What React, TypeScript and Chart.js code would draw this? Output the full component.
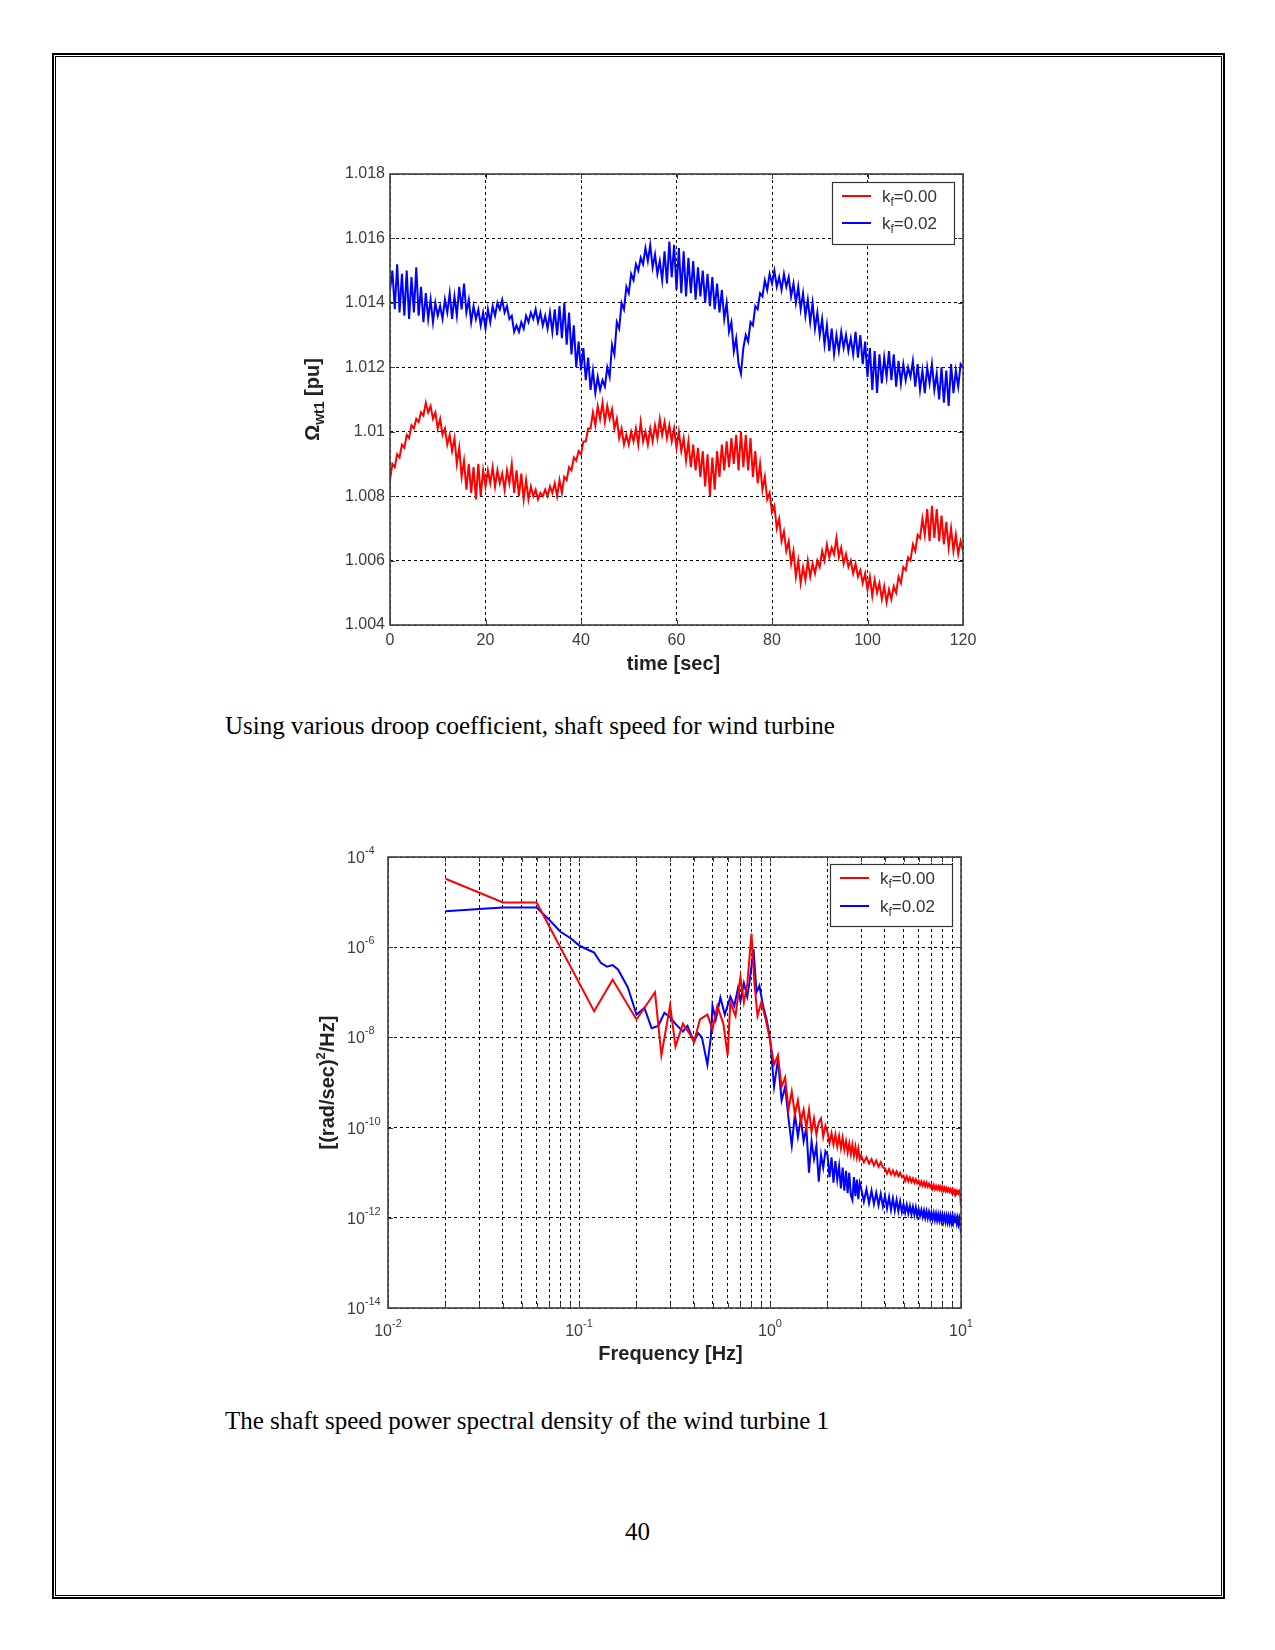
import React, { useEffect, useRef } from "react";
import { Chart, registerables } from "chart.js";
Chart.register(...registerables);

// ---------- Figure 1: shaft speed vs time ----------
const TIME_STEP_SEC = 0.5;
const TIME_X_TICKS = [0, 20, 40, 60, 80, 100, 120];
const OMEGA_Y_TICKS = [1.004, 1.006, 1.008, 1.01, 1.012, 1.014, 1.016, 1.018];
const OMEGA_Y_LABELS = ["1.004", "1.006", "1.008", "1.01", "1.012", "1.014", "1.016", "1.018"];

const OMEGA_KF000 = [
  1.0085, 1.0090, 1.0089, 1.0093, 1.0092, 1.0096, 1.0095, 1.0099, 1.0098, 1.0102,
  1.0101, 1.0104, 1.0103, 1.0106, 1.0105, 1.0109, 1.0106, 1.0108, 1.0104, 1.0106,
  1.0101, 1.0104, 1.0099, 1.0101, 1.0096, 1.0099, 1.0094, 1.0098, 1.0090, 1.0095,
  1.0086, 1.0091, 1.0082, 1.0090, 1.0081, 1.0089, 1.0079, 1.0090, 1.0080, 1.0088,
  1.0083, 1.0088, 1.0084, 1.0089, 1.0083, 1.0088, 1.0084, 1.0087, 1.0082, 1.0088,
  1.0084, 1.0090, 1.0081, 1.0088, 1.0080, 1.0087, 1.0079, 1.0085, 1.0079, 1.0083,
  1.0080, 1.0082, 1.0079, 1.0081, 1.0080, 1.0082, 1.0080, 1.0083, 1.0081, 1.0084,
  1.0080, 1.0085, 1.0081, 1.0086, 1.0085, 1.0089, 1.0088, 1.0092, 1.0091, 1.0094,
  1.0093, 1.0097, 1.0097, 1.0101, 1.0101, 1.0106, 1.0102, 1.0108, 1.0104, 1.0109,
  1.0103, 1.0108, 1.0104, 1.0107, 1.0101, 1.0104, 1.0098, 1.0101, 1.0096, 1.0099,
  1.0096, 1.0100, 1.0097, 1.0101, 1.0096, 1.0103, 1.0097, 1.0100, 1.0096, 1.0101,
  1.0097, 1.0102, 1.0098, 1.0104, 1.0099, 1.0103, 1.0098, 1.0102, 1.0097, 1.0101,
  1.0095, 1.0100, 1.0094, 1.0098, 1.0091, 1.0097, 1.0089, 1.0096, 1.0088, 1.0095,
  1.0086, 1.0094, 1.0083, 1.0093, 1.0080, 1.0092, 1.0082, 1.0094, 1.0086, 1.0096,
  1.0088, 1.0097, 1.0089, 1.0098, 1.0090, 1.0099, 1.0088, 1.0100, 1.0089, 1.0099,
  1.0088, 1.0098, 1.0086, 1.0094, 1.0084, 1.0090, 1.0082, 1.0086, 1.0079, 1.0081,
  1.0075, 1.0077, 1.0070, 1.0073, 1.0066, 1.0069, 1.0063, 1.0066, 1.0059, 1.0063,
  1.0055, 1.0060, 1.0053, 1.0058, 1.0054, 1.0060, 1.0055, 1.0059, 1.0056, 1.0060,
  1.0058, 1.0063, 1.0060, 1.0065, 1.0061, 1.0064, 1.0062, 1.0067, 1.0061, 1.0064,
  1.0059, 1.0062, 1.0058, 1.0060, 1.0056, 1.0059, 1.0055, 1.0057, 1.0053, 1.0056,
  1.0051, 1.0055, 1.0049, 1.0054, 1.0050, 1.0053, 1.0048, 1.0052, 1.0047, 1.0051,
  1.0048, 1.0052, 1.0050, 1.0055, 1.0053, 1.0058, 1.0057, 1.0061, 1.0060, 1.0065,
  1.0063, 1.0068, 1.0067, 1.0073, 1.0068, 1.0076, 1.0066, 1.0077, 1.0067, 1.0076,
  1.0066, 1.0074, 1.0065, 1.0072, 1.0064, 1.0070, 1.0063, 1.0068, 1.0062, 1.0066,
  1.0063,
];

const OMEGA_KF002 = [
  1.0144, 1.0150, 1.0138, 1.0152, 1.0137, 1.0149, 1.0136, 1.0150, 1.0135, 1.0148,
  1.0137, 1.0151, 1.0136, 1.0145, 1.0134, 1.0143, 1.0135, 1.0141, 1.0134, 1.0140,
  1.0136, 1.0139, 1.0135, 1.0141, 1.0137, 1.0143, 1.0135, 1.0142, 1.0136, 1.0145,
  1.0138, 1.0146, 1.0137, 1.0141, 1.0134, 1.0139, 1.0135, 1.0138, 1.0133, 1.0137,
  1.0132, 1.0138, 1.0134, 1.0139, 1.0136, 1.0140, 1.0138, 1.0141, 1.0137, 1.0139,
  1.0135, 1.0136, 1.0131, 1.0133, 1.0131, 1.0134, 1.0132, 1.0136, 1.0134, 1.0137,
  1.0135, 1.0138, 1.0134, 1.0137, 1.0133, 1.0136, 1.0132, 1.0137, 1.0131, 1.0138,
  1.0130, 1.0139, 1.0129, 1.0140, 1.0127, 1.0137, 1.0124, 1.0133, 1.0120, 1.0128,
  1.0119, 1.0126, 1.0116, 1.0123, 1.0113, 1.0119, 1.0112, 1.0117, 1.0113, 1.0116,
  1.0114, 1.0120, 1.0117, 1.0127, 1.0124, 1.0134, 1.0132, 1.0140, 1.0138, 1.0145,
  1.0143, 1.0149, 1.0147, 1.0152, 1.0150, 1.0154, 1.0152, 1.0157, 1.0153, 1.0158,
  1.0151, 1.0155, 1.0149, 1.0153, 1.0147, 1.0156, 1.0146, 1.0159, 1.0148, 1.0158,
  1.0144, 1.0157, 1.0143, 1.0156, 1.0142, 1.0154, 1.0143, 1.0153, 1.0141, 1.0151,
  1.0142, 1.0150, 1.0140, 1.0149, 1.0139, 1.0148, 1.0138, 1.0146, 1.0137, 1.0144,
  1.0135, 1.0140, 1.0131, 1.0134, 1.0125, 1.0129, 1.0121, 1.0118, 1.0126, 1.0130,
  1.0128, 1.0134, 1.0133, 1.0139, 1.0138, 1.0143, 1.0142, 1.0147, 1.0144, 1.0149,
  1.0146, 1.0150, 1.0145, 1.0148, 1.0144, 1.0149, 1.0145, 1.0148, 1.0142, 1.0146,
  1.0140, 1.0145, 1.0138, 1.0143, 1.0136, 1.0141, 1.0134, 1.0140, 1.0132, 1.0137,
  1.0130, 1.0135, 1.0127, 1.0133, 1.0125, 1.0132, 1.0124, 1.0130, 1.0125, 1.0131,
  1.0126, 1.0130, 1.0125, 1.0129, 1.0124, 1.0131, 1.0123, 1.0130, 1.0121, 1.0128,
  1.0117, 1.0126, 1.0113, 1.0125, 1.0112, 1.0124, 1.0115, 1.0123, 1.0117, 1.0125,
  1.0116, 1.0124, 1.0114, 1.0122, 1.0115, 1.0121, 1.0116, 1.0120, 1.0117, 1.0122,
  1.0114, 1.0121, 1.0113, 1.0119, 1.0112, 1.0120, 1.0115, 1.0121, 1.0113, 1.0118,
  1.0110, 1.0120, 1.0109, 1.0119, 1.0108, 1.0121, 1.0112, 1.0119, 1.0114, 1.0121,
  1.0120,
];

// ---------- Figure 2: power spectral density ----------
const PSD_X_GRID = [
  0.01, 0.02, 0.03, 0.04, 0.05, 0.06, 0.07, 0.08, 0.09,
  0.1, 0.2, 0.3, 0.4, 0.5, 0.6, 0.7, 0.8, 0.9,
  1, 2, 3, 4, 5, 6, 7, 8, 9, 10,
];
const PSD_X_LABEL_VALUES = [0.01, 0.1, 1, 10];
const PSD_X_LABEL_EXP = ["-2", "-1", "0", "1"];
const PSD_Y_TICKS = [1e-14, 1e-12, 1e-10, 1e-8, 1e-6, 1e-4];
const PSD_Y_LABEL_EXP = ["-14", "-12", "-10", "-8", "-6", "-4"];

// low-frequency samples (below 1 Hz), per series
const PSD_FREQ_LOW_KF000 = [
  0.02, 0.04, 0.06, 0.12, 0.15, 0.2, 0.25, 0.27, 0.3, 0.32, 0.35, 0.38, 0.4, 0.43, 0.47,
  0.5, 0.53, 0.57, 0.6, 0.62, 0.66, 0.7, 0.73, 0.76, 0.8, 0.83, 0.86, 0.9, 0.95,
];
const PSD_LOW_KF000 = [
  3.3e-5, 9.8e-6, 9.8e-6, 3.8e-8, 1.9e-7, 2.5e-8, 1.0e-7, 4e-9, 5.2e-8, 6.3e-9, 2e-8, 1.2e-8, 8e-9, 2.5e-8, 3.2e-8,
  1.5e-8, 5e-8, 2e-8, 4e-9, 6e-8, 3e-8, 2.2e-7, 6e-8, 1.5e-7, 2.0e-6, 1.5e-7, 3e-8, 6e-8, 2.5e-8,
];
const PSD_FREQ_LOW_KF002 = [
  0.02, 0.03, 0.04, 0.06, 0.07, 0.08, 0.09, 0.1, 0.11, 0.12, 0.13, 0.14, 0.15, 0.16, 0.18,
  0.2, 0.22, 0.24, 0.26, 0.28, 0.3, 0.32, 0.35, 0.37, 0.4, 0.42, 0.44, 0.47, 0.49,
  0.5, 0.52, 0.55, 0.58, 0.62, 0.65, 0.68, 0.7, 0.73, 0.76, 0.78, 0.82, 0.85, 0.88, 0.92, 0.96,
];
const PSD_LOW_KF002 = [
  6.3e-6, 7e-6, 7.6e-6, 7.6e-6, 4e-6, 2.2e-6, 1.6e-6, 1.1e-6, 9e-7, 7.6e-7, 4.5e-7, 3.7e-7, 4e-7, 3.2e-7, 1.3e-7,
  3.2e-8, 4.5e-8, 1.6e-8, 1.8e-8, 3.5e-8, 2.8e-8, 2e-8, 1.35e-8, 1.8e-8, 8e-9, 1.25e-8, 1e-8, 2.5e-9, 1e-8,
  5e-8, 2.5e-8, 7.6e-8, 3.2e-8, 8e-8, 5e-8, 1.25e-7, 6.3e-8, 1.6e-7, 8e-8, 1.6e-7, 9e-7, 1e-7, 1.4e-7, 5e-8, 2.5e-8,
];

// high-frequency samples (1 to 10 Hz), shared frequency list
const PSD_FREQ_TAIL = [
  1.0, 1.05, 1.1, 1.15, 1.2, 1.25, 1.3, 1.35, 1.4, 1.45, 1.5, 1.55, 1.6, 1.65, 1.7, 1.75, 1.8, 1.85, 1.9, 1.95,
  2.0, 2.05, 2.1, 2.15, 2.2, 2.25, 2.3, 2.35, 2.4, 2.45, 2.5, 2.55, 2.6, 2.65, 2.7, 2.75, 2.8, 2.85, 2.9, 2.95,
  3.0, 3.1, 3.2, 3.3, 3.4, 3.5, 3.6, 3.7, 3.8, 3.9,
  4.0, 4.1, 4.2, 4.3, 4.4, 4.5, 4.6, 4.7, 4.8, 4.9,
  5.0, 5.1, 5.2, 5.3, 5.4, 5.5, 5.6, 5.7, 5.8, 5.9,
  6.0, 6.1, 6.2, 6.3, 6.4, 6.5, 6.6, 6.7, 6.8, 6.9,
  7.0, 7.1, 7.2, 7.3, 7.4, 7.5, 7.6, 7.7, 7.8, 7.9,
  8.0, 8.1, 8.2, 8.3, 8.4, 8.5, 8.6, 8.7, 8.8, 8.9,
  9.0, 9.1, 9.2, 9.3, 9.4, 9.5, 9.6, 9.7, 9.8, 9.9,
  10.0,
];
const PSD_TAIL_KF000 = [
  8.7e-9, 2.5e-9, 4e-9, 8e-10, 1.3e-9, 2.5e-10, 6.3e-10, 2e-10, 4e-10, 1.3e-10, 2.5e-10, 1e-10, 2.5e-10, 8e-11, 1.6e-10, 7e-11, 1.3e-10, 1.6e-10, 6.3e-11, 1.1e-10,
  8e-11, 4.5e-11, 7.5e-11, 4.2e-11, 7e-11, 3.8e-11, 6.5e-11, 3.5e-11, 6e-11, 3.2e-11, 5e-11, 2.8e-11, 4.5e-11, 2.6e-11, 4.2e-11, 2.4e-11, 3.8e-11, 2.2e-11, 3.4e-11, 2e-11,
  2.4e-11, 1.7e-11, 2.2e-11, 1.6e-11, 2.0e-11, 1.45e-11, 1.85e-11, 1.35e-11, 1.7e-11, 1.3e-11,
  1.25e-11, 9.5e-12, 1.2e-11, 9.2e-12, 1.12e-11, 8.8e-12, 1.06e-11, 8.4e-12, 1.0e-11, 8.0e-12,
  8.6e-12, 6.6e-12, 8.2e-12, 6.4e-12, 7.8e-12, 6.2e-12, 7.4e-12, 6.0e-12, 7.1e-12, 5.8e-12,
  6.6e-12, 5.3e-12, 6.4e-12, 5.2e-12, 6.2e-12, 5.0e-12, 6.0e-12, 4.9e-12, 5.7e-12, 4.8e-12,
  5.4e-12, 4.4e-12, 5.3e-12, 4.3e-12, 5.1e-12, 4.3e-12, 5.0e-12, 4.2e-12, 4.9e-12, 4.1e-12,
  4.8e-12, 4.0e-12, 4.6e-12, 3.9e-12, 4.5e-12, 3.9e-12, 4.4e-12, 3.8e-12, 4.3e-12, 3.7e-12,
  4.2e-12, 3.6e-12, 4.1e-12, 3.6e-12, 4.0e-12, 3.5e-12, 3.9e-12, 3.5e-12, 3.9e-12, 3.4e-12,
  1.8e-12,
];
const PSD_TAIL_KF002 = [
  1e-8, 8e-10, 3.2e-9, 4e-10, 8e-10, 1.6e-10, 4e-11, 2e-10, 6.3e-11, 1.6e-10, 5e-11, 1e-10, 1e-11, 5e-11, 2e-11, 4e-11, 6.3e-12, 2.5e-11, 1.3e-11, 3e-11,
  2.5e-11, 8e-12, 2.2e-11, 6e-12, 1.8e-11, 7e-12, 1.4e-11, 4.5e-12, 1.3e-11, 4e-12, 1.1e-11, 3.5e-12, 1e-11, 3.2e-12, 2.5e-12, 8e-12, 3e-12, 7e-12, 2.6e-12, 6e-12,
  4.6e-12, 2.3e-12, 4.3e-12, 2.1e-12, 4.0e-12, 2.0e-12, 3.6e-12, 1.9e-12, 3.4e-12, 1.8e-12,
  3.1e-12, 1.6e-12, 2.9e-12, 1.5e-12, 2.7e-12, 1.45e-12, 2.5e-12, 1.4e-12, 2.3e-12, 1.35e-12,
  2.0e-12, 1.3e-12, 1.95e-12, 1.25e-12, 1.85e-12, 1.2e-12, 1.75e-12, 1.15e-12, 1.7e-12, 1.1e-12,
  1.55e-12, 1.1e-12, 1.5e-12, 1.05e-12, 1.45e-12, 1.0e-12, 1.4e-12, 9.8e-13, 1.35e-12, 9.5e-13,
  1.3e-12, 9.3e-13, 1.27e-12, 9.0e-13, 1.24e-12, 8.8e-13, 1.2e-12, 8.7e-13, 1.18e-12, 8.5e-13,
  1.15e-12, 8.4e-13, 1.12e-12, 8.2e-13, 1.1e-12, 8.0e-13, 1.08e-12, 7.9e-13, 1.06e-12, 7.8e-13,
  1.04e-12, 7.7e-13, 1.02e-12, 7.6e-13, 1.0e-12, 7.5e-13, 9.9e-13, 7.4e-13, 9.7e-13, 7.3e-13,
  4.5e-13,
];

const LEGEND_VALUES = ["0.00", "0.02"];
const SERIES_COLORS = ["rgb(255,0,0)", "rgb(0,0,255)"];

const CAPTION_1 = "Using various droop coefficient, shaft speed for wind turbine";
const CAPTION_2 = "The shaft speed power spectral density of the wind turbine 1";
const PAGE_NUMBER = "40";

// ---------- drawing helpers ----------
const SANS = '"Liberation Sans", Arial, Helvetica, sans-serif';
type Part = { t: string; font: string; dy?: number };

function partsWidth(ctx: CanvasRenderingContext2D, parts: Part[]) {
  let w = 0;
  for (const p of parts) {
    ctx.font = p.font;
    w += ctx.measureText(p.t).width;
  }
  return w;
}
function drawParts(ctx: CanvasRenderingContext2D, parts: Part[], x: number, y: number) {
  let cx = x;
  ctx.textAlign = "left";
  ctx.textBaseline = "alphabetic";
  for (const p of parts) {
    ctx.font = p.font;
    ctx.fillText(p.t, cx, y + (p.dy || 0));
    cx += ctx.measureText(p.t).width;
  }
}

function drawBoxAndTicks(chart: any, xVals: number[], yVals: number[]) {
  const ctx = chart.ctx as CanvasRenderingContext2D;
  const { left, right, top, bottom } = chart.chartArea;
  const xs = chart.scales.x;
  const ys = chart.scales.y;
  ctx.save();
  ctx.strokeStyle = "#3a3a3a";
  ctx.lineWidth = 1;
  ctx.beginPath();
  for (const v of xVals) {
    const px = Math.round(xs.getPixelForValue(v)) + 0.5;
    ctx.moveTo(px, top); ctx.lineTo(px, top + 5);
    ctx.moveTo(px, bottom); ctx.lineTo(px, bottom - 5);
  }
  for (const v of yVals) {
    const py = Math.round(ys.getPixelForValue(v)) + 0.5;
    ctx.moveTo(left, py); ctx.lineTo(left + 5, py);
    ctx.moveTo(right, py); ctx.lineTo(right - 5, py);
  }
  ctx.stroke();
  ctx.lineWidth = 1.6;
  ctx.strokeStyle = "#404040";
  ctx.strokeRect(left, top, right - left, bottom - top);
  ctx.restore();
}

function drawLegend(chart: any, topOffset: number, rowGap: number) {
  const ctx = chart.ctx as CanvasRenderingContext2D;
  const { right, top } = chart.chartArea;
  const bw = 122, bh = 62;
  const bx = right - 9 - bw, by = top + topOffset;
  ctx.save();
  ctx.fillStyle = "#ffffff";
  ctx.fillRect(bx, by, bw, bh);
  ctx.strokeStyle = "#333";
  ctx.lineWidth = 1.2;
  ctx.strokeRect(bx + 0.5, by + 0.5, bw, bh);
  LEGEND_VALUES.forEach((val, i) => {
    const ly = by + 14 + i * rowGap;
    ctx.strokeStyle = SERIES_COLORS[i];
    ctx.lineWidth = 2;
    ctx.beginPath();
    ctx.moveTo(bx + 10, ly);
    ctx.lineTo(bx + 39, ly);
    ctx.stroke();
    ctx.fillStyle = "#333";
    drawParts(ctx, [
      { t: "k", font: `17px ${SANS}` },
      { t: "f", font: `12px ${SANS}`, dy: 4 },
      { t: "=" + val, font: `17px ${SANS}` },
    ], bx + 50, ly + 6);
  });
  ctx.restore();
}

const timeChartPlugin = {
  id: "timeDecor",
  afterDraw(chart: any) {
    const ctx = chart.ctx as CanvasRenderingContext2D;
    const { left, right, top, bottom } = chart.chartArea;
    const xs = chart.scales.x;
    const ys = chart.scales.y;
    drawBoxAndTicks(chart, TIME_X_TICKS, OMEGA_Y_TICKS);
    ctx.save();
    ctx.fillStyle = "#3c3c3c";
    ctx.font = `16px ${SANS}`;
    ctx.textAlign = "right";
    ctx.textBaseline = "middle";
    OMEGA_Y_TICKS.forEach((v, i) => ctx.fillText(OMEGA_Y_LABELS[i], left - 5, ys.getPixelForValue(v)));
    ctx.textAlign = "center";
    ctx.textBaseline = "top";
    TIME_X_TICKS.forEach((v) => ctx.fillText(String(v), xs.getPixelForValue(v), bottom + 8));
    // x title
    ctx.fillStyle = "#222";
    ctx.font = `bold 20px ${SANS}`;
    ctx.textBaseline = "middle";
    ctx.fillText("time [sec]", (left + right) / 2 - 3, bottom + 39);
    // y title
    const parts: Part[] = [
      { t: "Ω", font: `bold 20px ${SANS}` },
      { t: "wt1", font: `bold 14px ${SANS}`, dy: 5 },
      { t: " [pu]", font: `bold 20px ${SANS}` },
    ];
    ctx.save();
    ctx.translate(left - 78, (top + bottom) / 2 + 0);
    ctx.rotate(-Math.PI / 2);
    const w = partsWidth(ctx, parts);
    drawParts(ctx, parts, -w / 2, 7);
    ctx.restore();
    ctx.restore();
    drawLegend(chart, 8, 27);
  },
};

const psdChartPlugin = {
  id: "psdDecor",
  afterDraw(chart: any) {
    const ctx = chart.ctx as CanvasRenderingContext2D;
    const { left, right, top, bottom } = chart.chartArea;
    const xs = chart.scales.x;
    const ys = chart.scales.y;
    drawBoxAndTicks(chart, PSD_X_GRID, PSD_Y_TICKS);
    ctx.save();
    ctx.fillStyle = "#3c3c3c";
    PSD_Y_TICKS.forEach((v, i) => {
      const py = ys.getPixelForValue(v);
      drawParts(ctx, [
        { t: "10", font: `16px ${SANS}` },
        { t: PSD_Y_LABEL_EXP[i], font: `11px ${SANS}`, dy: -9 },
      ], left - 41, py + 6);
    });
    PSD_X_LABEL_VALUES.forEach((v, i) => {
      const px = xs.getPixelForValue(v);
      const parts: Part[] = [
        { t: "10", font: `16px ${SANS}` },
        { t: PSD_X_LABEL_EXP[i], font: `11px ${SANS}`, dy: -9 },
      ];
      const w = partsWidth(ctx, parts);
      drawParts(ctx, parts, px - w / 2, bottom + 28);
    });
    ctx.fillStyle = "#222";
    ctx.font = `bold 20px ${SANS}`;
    ctx.textAlign = "center";
    ctx.textBaseline = "middle";
    ctx.fillText("Frequency [Hz]", (left + right) / 2 - 4, bottom + 46);
    const parts: Part[] = [
      { t: "[(rad/sec)", font: `bold 20px ${SANS}` },
      { t: "2", font: `bold 13px ${SANS}`, dy: -9 },
      { t: "/Hz]", font: `bold 20px ${SANS}` },
    ];
    ctx.save();
    ctx.translate(left - 61, (top + bottom) / 2);
    ctx.rotate(-Math.PI / 2);
    const w = partsWidth(ctx, parts);
    drawParts(ctx, parts, -w / 2, 7);
    ctx.restore();
    ctx.restore();
    drawLegend(chart, 7, 28);
  },
};

const gridCommon = {
  color: "#000000",
  lineWidth: 1,
  drawTicks: false,
};

function TimeChart() {
  const ref = useRef<HTMLCanvasElement>(null);
  useEffect(() => {
    if (!ref.current) return;
    const toPts = (arr: number[]) => arr.map((v, i) => ({ x: i * TIME_STEP_SEC, y: v }));
    const chart = new Chart(ref.current, {
      type: "line",
      data: {
        datasets: [
          { data: toPts(OMEGA_KF000), borderColor: SERIES_COLORS[0], borderWidth: 2, pointRadius: 0, tension: 0 },
          { data: toPts(OMEGA_KF002), borderColor: SERIES_COLORS[1], borderWidth: 2, pointRadius: 0, tension: 0 },
        ],
      },
      options: {
        animation: false,
        responsive: false,
        events: [],
        layout: { padding: { left: 110, top: 34, right: 37, bottom: 55 } },
        plugins: { legend: { display: false }, tooltip: { enabled: false } },
        scales: {
          x: {
            type: "linear", min: 0, max: 120,
            afterBuildTicks: (s: any) => { s.ticks = TIME_X_TICKS.map((v) => ({ value: v })); },
            ticks: { display: false },
            grid: gridCommon,
            border: { display: false, dash: [3, 3] },
          },
          y: {
            type: "linear", min: 1.004, max: 1.018,
            afterBuildTicks: (s: any) => { s.ticks = OMEGA_Y_TICKS.map((v) => ({ value: v })); },
            ticks: { display: false },
            grid: gridCommon,
            border: { display: false, dash: [3, 3] },
          },
        },
      } as any,
      plugins: [timeChartPlugin],
    });
    return () => chart.destroy();
  }, []);
  return <canvas ref={ref} width={720} height={540} style={{ position: "absolute", left: 280, top: 140 }} />;
}

function PsdChart() {
  const ref = useRef<HTMLCanvasElement>(null);
  useEffect(() => {
    if (!ref.current) return;
    const toPts = (fs: number[], vs: number[]) => fs.map((f, i) => ({ x: f, y: vs[i] }));
    const red = [...toPts(PSD_FREQ_LOW_KF000, PSD_LOW_KF000), ...toPts(PSD_FREQ_TAIL, PSD_TAIL_KF000)];
    const blue = [...toPts(PSD_FREQ_LOW_KF002, PSD_LOW_KF002), ...toPts(PSD_FREQ_TAIL, PSD_TAIL_KF002)];
    const chart = new Chart(ref.current, {
      type: "line",
      data: {
        datasets: [
          { data: red, borderColor: SERIES_COLORS[0], borderWidth: 2, pointRadius: 0, tension: 0 },
          { data: blue, borderColor: SERIES_COLORS[1], borderWidth: 2, pointRadius: 0, tension: 0 },
        ],
      },
      options: {
        animation: false,
        responsive: false,
        events: [],
        layout: { padding: { left: 108, top: 37, right: 39, bottom: 72 } },
        plugins: { legend: { display: false }, tooltip: { enabled: false } },
        scales: {
          x: {
            type: "logarithmic", min: 0.01, max: 10,
            afterBuildTicks: (s: any) => { s.ticks = PSD_X_GRID.map((v) => ({ value: v })); },
            ticks: { display: false },
            grid: gridCommon,
            border: { display: false, dash: [3, 3] },
          },
          y: {
            type: "logarithmic", min: 1e-14, max: 1e-4,
            afterBuildTicks: (s: any) => { s.ticks = PSD_Y_TICKS.map((v) => ({ value: v })); },
            ticks: { display: false },
            grid: gridCommon,
            border: { display: false, dash: [3, 3] },
          },
        },
      } as any,
      plugins: [psdChartPlugin],
    });
    return () => chart.destroy();
  }, []);
  return <canvas ref={ref} width={720} height={560} style={{ position: "absolute", left: 280, top: 820 }} />;
}

const serif = '"Liberation Serif", "Times New Roman", Times, serif';

export default function App() {
  return (
    <div style={{ position: "absolute", left: 0, top: 0, width: 1275, height: 1650, background: "#fff" }}>
      <div style={{ position: "absolute", left: 52, top: 53, width: 1169, height: 1542, border: "2px solid #000" }} />
      <div style={{ position: "absolute", left: 55, top: 56, width: 1165, height: 1538, border: "1px solid #000" }} />
      <TimeChart />
      <PsdChart />
      <div style={{ position: "absolute", left: 225, top: 711, fontFamily: serif, fontSize: 25, lineHeight: "29px", whiteSpace: "nowrap" }}>{CAPTION_1}</div>
      <div style={{ position: "absolute", left: 225, top: 1406, fontFamily: serif, fontSize: 25, lineHeight: "29px", whiteSpace: "nowrap" }}>{CAPTION_2}</div>
      <div style={{ position: "absolute", left: 0, width: 1275, textAlign: "center", top: 1517, fontFamily: serif, fontSize: 25, lineHeight: "29px" }}>{PAGE_NUMBER}</div>
    </div>
  );
}
